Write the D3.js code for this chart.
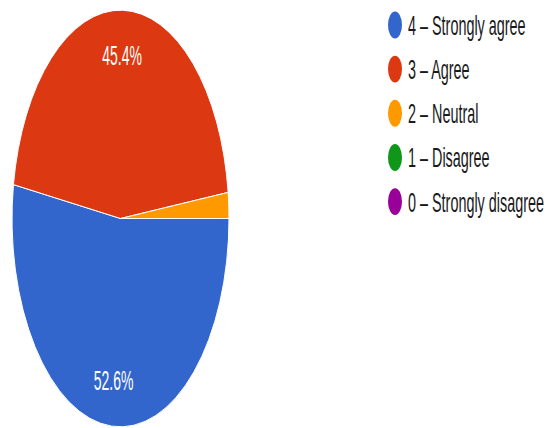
<!DOCTYPE html>
<html>
<head>
<meta charset="utf-8">
<script src="https://cdn.jsdelivr.net/npm/d3@7"></script>
<style>
  body { margin: 0; background: #fff; }
</style>
</head>
<body>
<script>
// chart data
var categories = ["4 – Strongly agree", "3 – Agree", "2 – Neutral", "1 – Disagree", "0 – Strongly disagree"];
var percents = [52.6, 45.4, 2.0, 0, 0];
var colours = ["#3366cc", "#dc3912", "#ff9900", "#109618", "#990099"];

var w = 548, h = 428;
var k = 1.92;            // the picture is stretched vertically
var r = 108.5;
var cx = 120.5, cy = 218.5 / k;

var svg = d3.select("body").append("svg")
    .attr("width", w)
    .attr("height", h);

var g = svg.append("g").attr("transform", "scale(1," + k + ")");

var pie = d3.pie()
    .sort(null)
    .value(function(d) { return d; })
    .startAngle(Math.PI / 2)
    .endAngle(Math.PI / 2 + 2 * Math.PI);

var arcs = pie(percents);

var arc = d3.arc().innerRadius(0).outerRadius(r);
var labelArc = d3.arc().innerRadius(r * 0.78).outerRadius(r * 0.78);

var pieG = g.append("g").attr("transform", "translate(" + cx + "," + cy + ")");

pieG.selectAll("path")
    .data(arcs.filter(function(d) { return d.value > 0; }))
    .enter()
    .append("path")
    .attr("d", arc)
    .attr("fill", function(d, i) { return colours[d.index]; })
    .attr("stroke", "#fff")
    .attr("stroke-width", 1)
    .attr("vector-effect", "non-scaling-stroke");

pieG.selectAll("text")
    .data(arcs.filter(function(d) { return d.value >= 5; }))
    .enter()
    .append("text")
    .attr("x", function(d) { return labelArc.centroid(d)[0]; })
    .attr("y", function(d) { return labelArc.centroid(d)[1]; })
    .attr("dy", "0.35em")
    .attr("text-anchor", "middle")
    .attr("font-family", "Liberation Sans, Arial, sans-serif")
    .attr("font-size", "14px")
    .attr("fill", "#fff")
    .text(function(d) { return d.value.toFixed(1) + "%"; });

// legend
var legY = d3.scaleLinear().domain([0, 4]).range([13, 105]);

var leg = g.selectAll(".leg")
    .data(categories)
    .enter()
    .append("g")
    .attr("class", "leg")
    .attr("transform", function(d, i) { return "translate(0," + legY(i) + ")"; });

leg.append("circle")
    .attr("cx", 395)
    .attr("cy", 0)
    .attr("r", 7)
    .attr("fill", function(d, i) { return colours[i]; });

leg.append("text")
    .attr("x", 408)
    .attr("y", 0)
    .attr("dy", "0.36em")
    .attr("font-family", "Liberation Sans, Arial, sans-serif")
    .attr("font-size", "14.4px")
    .attr("fill", "#1a1a1a")
    .text(function(d) { return d; });
</script>
</body>
</html>
